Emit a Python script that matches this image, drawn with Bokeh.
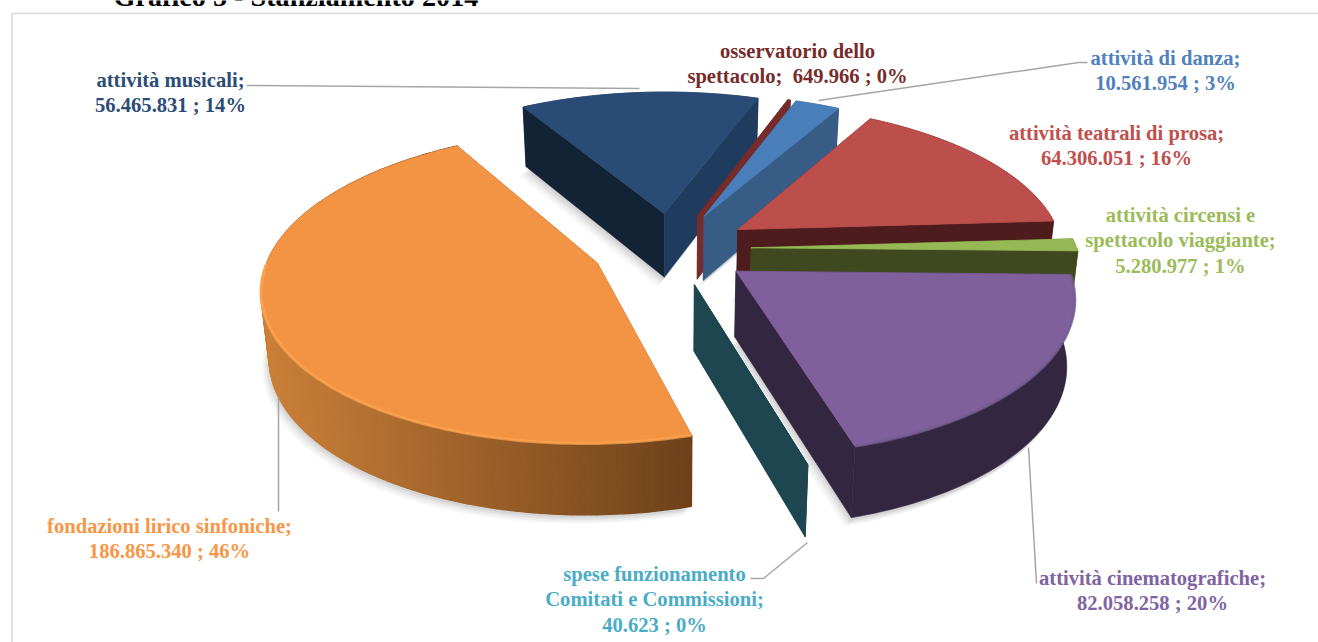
import math
from bokeh.plotting import figure
from bokeh.embed import file_html
from bokeh.resources import INLINE
from bokeh.core.properties import value

# Budget items, listed clockwise starting from the slice right of the pie centre
names = ["attività cinematografiche", "spese funzionamento Comitati e Commissioni",
         "fondazioni lirico sinfoniche", "attività musicali", "osservatorio dello spettacolo",
         "attività di danza", "attività teatrali di prosa", "attività circensi e spettacolo viaggiante"]
amounts = [82058258, 40623, 186865340, 56465831, 649966, 10561954, 64306051, 5280977]
percent = [20, 0, 46, 14, 0, 3, 16, 1]

top_colors = ["#7F609C", "#1D4650", "#F39445", "#2A4B75", "#772C2A", "#4A7EBB", "#BC4E4B", "#97B955"]
wall_start = ["#322640", "#1D4650", "#6E411A", "#122335", "#772C2A", "#2F5079", "#4E1C1C", "#40481F"]
wall_end = ["#322640", "#1D4650", "#6E411A", "#1F3C5E", "#772C2A", "#375D87", "#4E1C1C", "#40481F"]
rim_left = ["#322640", "#1D4650", "#CB8039", "#1F3C5E", "#772C2A", "#375D87", "#4E1C1C", "#40481F"]
rim_right = ["#322640", "#1D4650", "#6E411A", "#1F3C5E", "#772C2A", "#375D87", "#4E1C1C", "#40481F"]
rim_glow = ["#735C90", None, "#FFA652", None, None, None, None, None]
draw_order = [3, 4, 5, 6, 7, 0, 1, 2]

label_lines = [
    ["attività cinematografiche;", "82.058.258 ; 20%"],
    ["spese funzionamento", "Comitati e Commissioni;", "40.623 ; 0%"],
    ["fondazioni lirico sinfoniche;", "186.865.340 ; 46%"],
    ["attività musicali;", "56.465.831 ; 14%"],
    ["osservatorio dello", "spettacolo;\u00a0 649.966 ; 0%"],
    ["attività di danza;", "10.561.954 ; 3%"],
    ["attività teatrali di prosa;", "64.306.051 ; 16%"],
    ["attività circensi e", "spettacolo viaggiante;", "5.280.977 ; 1%"],
]
label_colors = ["#8064A2", "#4BACC6", "#F79646", "#2C4D75", "#772C2A", "#4F81BD", "#C0504D", "#9BBB59"]
label_x = [1152, 654, 169, 170, 797, 1165, 1116, 1180]
label_y = [577, 573, 525, 79, 50, 57, 132, 214]
leaders = [
    ([1028, 1036], [447, 583]),
    ([807, 763, 750], [542, 578, 578]),
    ([278, 278], [397, 511]),
    ([246, 639], [85, 88]),
    ([818, 1078, 1087], [100, 62, 62]),
]

# Projection of the pie plane onto the page
CX, CY = 671.0, 248.0
RX, RY = 326.0, 149.0
TILT = 0.148
DEPTH_TILT = 0.08
EXPLODE = 0.244
DEPTH = 65.0
BASE_SHRINK = 0.98
START_DEG = 1.2


def project(u, v):
    w = 1 - TILT * v
    return CX + RX * u / w, CY + RY * v / w


def lower(u, v):
    x, y = project(u, v)
    return CX + (x - CX) * BASE_SHRINK, y + DEPTH / (1 - DEPTH_TILT * v)


def mix(a, b, t):
    t = max(0.0, min(1.0, t))
    ca = [int(a[i:i + 2], 16) for i in (1, 3, 5)]
    cb = [int(b[i:i + 2], 16) for i in (1, 3, 5)]
    return "#%02x%02x%02x" % tuple(round(p + (q - p) * t) for p, q in zip(ca, cb))


p = figure(width=1318, height=642, x_range=(0, 1318), y_range=(642, 0),
           output_backend="svg", toolbar_location=None, min_border=0)
p.axis.visible = False
p.grid.visible = False
p.outline_line_color = None
p.background_fill_color = "white"
p.border_fill_color = "white"

# Chart frame, running off the page on the right and at the bottom
p.line([11.5, 11.5, 1330], [660, 13, 13], line_color="#D9D9D9", line_width=1.5)

# Heading cut by the upper page edge
p.text([113], [-4], text=["Grafico 5 - Stanziamento 2014"], text_font=value("Liberation Serif"),
       text_font_style="bold", text_font_size="28.2px", text_color="#000000",
       text_align="left", text_baseline="alphabetic")

# Slice geometry follows directly from the amounts
total = sum(amounts)
slices = []
angle = math.radians(START_DEG)
for amount in amounts:
    span = 2 * math.pi * amount / total
    slices.append((angle, angle + span))
    angle += span

shapes = []
for a0, a1 in slices:
    mid = (a0 + a1) / 2
    ox, oy = EXPLODE * math.cos(mid), EXPLODE * math.sin(mid)
    n = max(2, int((a1 - a0) * 60))
    angles = [a0 + (a1 - a0) * i / n for i in range(n + 1)]
    rim = [(ox + math.cos(t), oy + math.sin(t)) for t in angles]
    shapes.append(((ox, oy), rim, angles))

# Soft drop shadow under every slice
for dx, dy, alpha in [(-7, 9, 0.03), (-5, 7, 0.04), (-3, 5, 0.05), (-1, 3, 0.05)]:
    for (apex, rim, _) in shapes:
        low = [lower(*q) for q in [apex] + rim]
        p.patch([q[0] + dx for q in low], [q[1] + dy for q in low],
                fill_color="#000000", fill_alpha=alpha, line_color=None)


def draw_rim(i, pts):
    # flat walls are one polygon; a shaded wall is built from overlapping strips
    if len(pts) < 2:
        return
    if rim_left[i] == rim_right[i]:
        upper = [project(*q) for q in pts]
        base = [lower(*q) for q in reversed(pts)]
        outline = upper + base
        p.patch([q[0] for q in outline], [q[1] for q in outline],
                fill_color=rim_left[i], line_color=rim_left[i], line_width=0.6)
        return
    xs = [project(*q)[0] for q in pts]
    lo, hi = min(xs), max(xs)
    for q0, q1 in zip(pts[:-1], pts[1:]):
        a, b, c, d = project(*q0), project(*q1), lower(*q1), lower(*q0)
        col = mix(rim_left[i], rim_right[i], ((a[0] + b[0]) / 2 - lo) / max(hi - lo, 1))
        p.patch([a[0], b[0], c[0], d[0]], [a[1], b[1], c[1], d[1]],
                fill_color=col, line_color=col, line_width=1.6)


for i in draw_order:
    apex, rim, angles = shapes[i]
    back = [q for q, t in zip(rim, angles) if math.sin(t) < 0]
    front = [q for q, t in zip(rim, angles) if math.sin(t) >= 0]
    draw_rim(i, back)
    # straight cut walls from the apex to both rim ends
    ta, tb = project(*apex), lower(*apex)
    for q, col in ((rim[0], wall_start[i]), (rim[-1], wall_end[i])):
        qa, qb = project(*q), lower(*q)
        p.patch([ta[0], qa[0], qb[0], tb[0]], [ta[1], qa[1], qb[1], tb[1]],
                fill_color=col, line_color=col, line_width=0.5)
    draw_rim(i, front)
    # upper face
    face = [project(*q) for q in [apex] + rim]
    p.patch([q[0] for q in face], [q[1] for q in face],
            fill_color=top_colors[i], line_color=top_colors[i], line_width=0.8)
    if rim_glow[i] and front:
        edge = [project(*q) for q in front]
        p.line([q[0] for q in edge], [q[1] for q in edge],
               line_color=rim_glow[i], line_width=3, line_alpha=0.7)

# Leader lines
for xs, ys in leaders:
    p.line(xs, ys, line_color="#A6A6A6", line_width=1.5)

# Data labels
for lines, col, x, y in zip(label_lines, label_colors, label_x, label_y):
    for k, line in enumerate(lines):
        p.text([x], [y + k * 25.5], text=[line], text_font=value("Liberation Serif"),
               text_font_style="bold", text_font_size="20.6px", text_color=col,
               text_align="center", text_baseline="middle")

open("out.html", "w").write(file_html(p, INLINE))
